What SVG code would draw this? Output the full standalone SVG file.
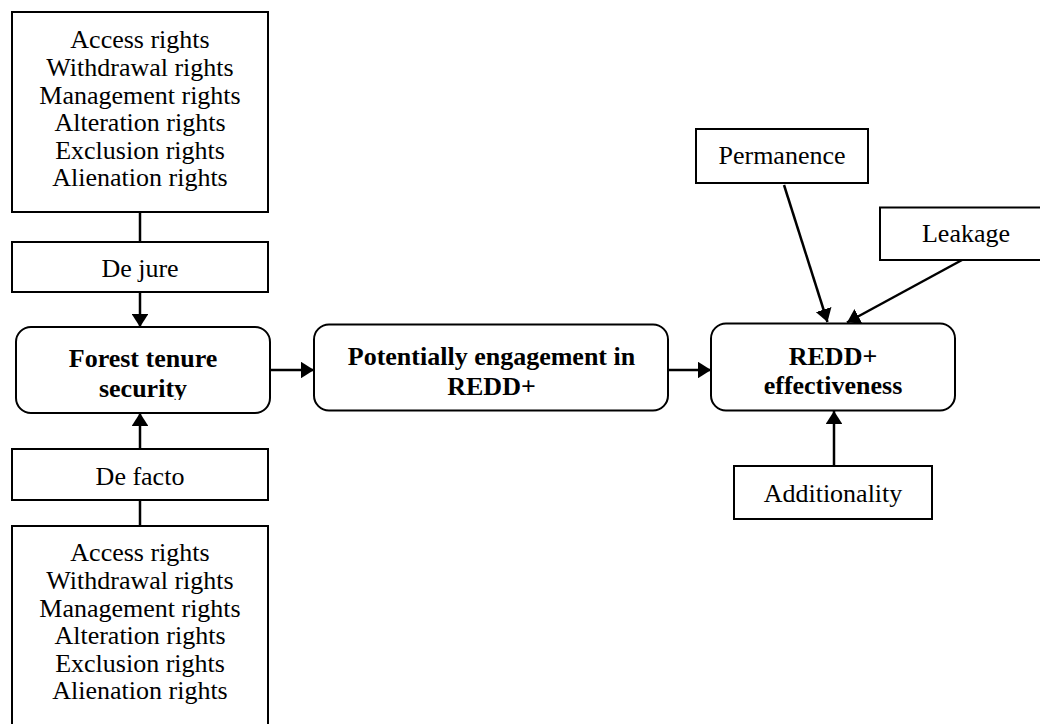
<svg xmlns="http://www.w3.org/2000/svg" width="1040" height="724" viewBox="0 0 1040 724">
<defs>
<style>
.box{fill:#fff;stroke:#000;stroke-width:2}
.t{font-family:"Liberation Serif","Times New Roman",serif;font-size:26px;fill:#000;text-anchor:middle}
.b{font-weight:bold}
.c{stroke:#000;stroke-width:2.5;fill:none}
.ca{stroke:#000;stroke-width:2.5;fill:none;marker-end:url(#ah)}
</style>
<marker id="ah" markerWidth="5.2" markerHeight="6.6" refX="5.2" refY="3.3" orient="auto" markerUnits="strokeWidth">
<path d="M0,0 L5.2,3.3 L0,6.6 Z" fill="#000"/>
</marker>
<clipPath id="clipF"><rect x="16" y="327" width="254" height="73"/></clipPath>
</defs>
<rect width="1040" height="724" fill="#fff"/>
<g id="connectors">
<line class="c" x1="140" y1="212" x2="140" y2="242"/>
<line class="ca" x1="140" y1="292" x2="140" y2="327"/>
<line class="ca" x1="140" y1="449" x2="140" y2="413"/>
<line class="c" x1="140" y1="500" x2="140" y2="526"/>
<line class="ca" x1="270" y1="370" x2="314" y2="370"/>
<line class="ca" x1="668" y1="370" x2="711" y2="370"/>
<line class="ca" x1="784" y1="185" x2="827.5" y2="322"/>
<line class="ca" x1="962" y1="260" x2="847" y2="322.5"/>
<line class="ca" x1="834" y1="466" x2="834" y2="411"/>
</g>
<g id="rights-dejure">
<rect class="box" x="12" y="12" width="256" height="200"/>
<text class="t" x="140" y="48">Access rights</text>
<text class="t" x="140" y="76">Withdrawal rights</text>
<text class="t" x="140" y="103.5">Management rights</text>
<text class="t" x="140" y="131">Alteration rights</text>
<text class="t" x="140" y="158.5">Exclusion rights</text>
<text class="t" x="140" y="186">Alienation rights</text>
</g>
<g id="dejure">
<rect class="box" x="12" y="242" width="256" height="50"/>
<text class="t" x="140" y="276.5">De jure</text>
</g>
<g id="forest">
<rect class="box" x="16" y="327" width="254" height="86" rx="15" ry="15"/>
<text class="t b" x="143" y="366.5">Forest tenure</text>
<text class="t b" x="143" y="396.5" clip-path="url(#clipF)">security</text>
</g>
<g id="defacto">
<rect class="box" x="12" y="449" width="256" height="51"/>
<text class="t" x="140" y="485">De facto</text>
</g>
<g id="rights-defacto">
<rect class="box" x="12" y="526" width="256" height="220"/>
<text class="t" x="140" y="561">Access rights</text>
<text class="t" x="140" y="589">Withdrawal rights</text>
<text class="t" x="140" y="616.5">Management rights</text>
<text class="t" x="140" y="644">Alteration rights</text>
<text class="t" x="140" y="671.5">Exclusion rights</text>
<text class="t" x="140" y="699">Alienation rights</text>
</g>
<g id="engagement">
<rect class="box" x="314" y="324.5" width="354" height="86" rx="15" ry="15"/>
<text class="t b" x="491.5" y="365">Potentially engagement in</text>
<text class="t b" x="491.5" y="395">REDD+</text>
</g>
<g id="effectiveness">
<rect class="box" x="711" y="323.5" width="244" height="87" rx="15" ry="15"/>
<text class="t b" x="833" y="365">REDD+</text>
<text class="t b" x="833" y="393.5">effectiveness</text>
</g>
<g id="permanence">
<rect class="box" x="696" y="129" width="172" height="54"/>
<text class="t" x="782" y="163.5">Permanence</text>
</g>
<g id="leakage">
<rect class="box" x="880" y="207.5" width="180" height="52.5"/>
<text class="t" x="966" y="241.5">Leakage</text>
</g>
<g id="additionality">
<rect class="box" x="734" y="466" width="198" height="53"/>
<text class="t" x="833" y="501.5">Additionality</text>
</g>
</svg>
